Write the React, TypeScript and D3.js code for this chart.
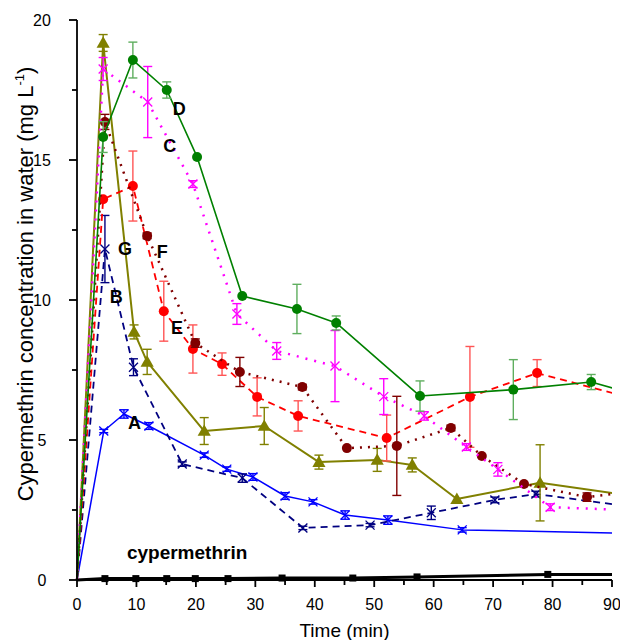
import React from "react";
import * as d3 from "d3";

// ---------- data ----------
const xTicks = [0, 10, 20, 30, 40, 50, 60, 70, 80, 90];
const yTicks = [0, 5, 10, 15, 20];

// D (green, solid, circles)
const timeD = [0, 4.4, 9.4, 15.1, 20.2, 27.8, 37, 43.6, 57.7, 73.4, 86.5, 95];
const concD = [0, 15.82, 18.57, 17.5, 15.11, 10.14, 9.68, 9.18, 6.57, 6.8, 7.07, 6.56];
const errD = [0, 0.55, 0.64, 0.29, 0, 0, 0.88, 0.25, 0.54, 1.07, 0.27, 0];

// C (magenta, dotted, crosses)
const timeC = [0, 4.4, 11.9, 19.5, 26.9, 33.6, 43.4, 51.6, 58.4, 65.5, 70.8, 79.6, 95];
const concC = [0, 18.25, 17.07, 14.14, 9.5, 8.18, 7.64, 6.55, 5.86, 4.75, 3.95, 2.6, 2.48];
const errC = [0, 0.41, 1.27, 0.12, 0.37, 0.3, 1.27, 0.64, 0.15, 0.12, 0.24, 0.12, 0];

// G (olive, solid, triangles)
const timeG = [0, 4.4, 9.6, 11.8, 21.4, 31.5, 40.7, 50.5, 56.4, 63.9, 77.9, 95];
const concG = [0, 19.18, 8.86, 7.79, 5.32, 5.5, 4.21, 4.29, 4.11, 2.89, 3.47, 2.96];
const errG = [0, 0.3, 0.25, 0.45, 0.48, 0.66, 0.25, 0.41, 0.25, 0, 1.36, 0];

// F (dark red, dotted, circles)
const timeF = [0, 4.7, 11.8, 19.9, 27.4, 37.9, 45.4, 53.8, 62.9, 68.1, 75.2, 85.8, 95];
const concF = [0, 16.36, 12.29, 8.46, 7.43, 6.89, 4.71, 4.79, 5.43, 4.43, 3.43, 2.96, 3.2];
const errF = [0, 0.27, 0.1, 0.15, 0.52, 0.1, 0, 1.77, 0.1, 0, 0, 0.15, 0];

// E (red, dashed, circles)
const timeE = [0, 4.4, 9.4, 14.6, 19.5, 24.4, 30.3, 37.2, 52.1, 66.1, 77.4, 95];
const concE = [0, 13.6, 14.07, 9.6, 8.25, 7.71, 6.54, 5.86, 5.07, 6.54, 7.39, 6.4];
const errE = [0, 0, 1.25, 1.07, 0.86, 0.4, 0.68, 0.54, 0.82, 1.8, 0.48, 0];

// B (navy, dashed, crosses)
const timeB = [0, 4.7, 9.5, 17.7, 27.8, 38, 49.3, 59.6, 70.3, 77.2, 95];
const concB = [0, 11.82, 7.6, 4.14, 3.64, 1.86, 1.96, 2.4, 2.86, 3.07, 2.57];
const errB = [0, 1.2, 0.3, 0.08, 0.15, 0.06, 0.06, 0.24, 0.1, 0.1, 0];

// A (blue, solid, crosses)
const timeA = [0, 4.5, 7.9, 12.1, 21.4, 25.2, 29.6, 35, 39.7, 45.1, 52.3, 64.8, 95];
const concA = [0, 5.32, 5.93, 5.5, 4.46, 3.96, 3.68, 3.0, 2.79, 2.32, 2.14, 1.79, 1.66];
const errA = [0, 0.06, 0.15, 0.12, 0.08, 0.08, 0.12, 0.12, 0.08, 0.15, 0.15, 0.08, 0];

// cypermethrin (black, thick, squares)
const timeK = [0, 4.7, 9.9, 15.1, 19.9, 25.4, 34.5, 46.4, 57.2, 79.2, 95];
const concK = [0, 0.05, 0.05, 0.05, 0.05, 0.05, 0.07, 0.07, 0.11, 0.2, 0.2];

// curve labels (data coordinates of text baseline start)
const labelText = ["D", "C", "G", "F", "B", "E", "A", "cypermethrin"];
const labelX = [16.1, 14.5, 6.9, 13.4, 5.5, 15.8, 8.6, 8.4];
const labelY = [16.6, 15.3, 11.6, 11.5, 9.9, 8.8, 5.4, 0.75];

// ---------- layout ----------
const W = 620, H = 640;
const x = d3.scaleLinear().domain([0, 90]).range([77, 612]);
const y = d3.scaleLinear().domain([0, 20]).range([580, 20]);

type Series = {
  t: number[]; c: number[]; e: number[];
  color: string; errColor: string; width: number; dash?: string; cap?: string;
  marker: "circle" | "x" | "tri" | "square";
};

const series: Series[] = [
  { t: timeK, c: concK, e: timeK.map(() => 0), color: "#000", errColor: "#000", width: 3, marker: "square" },
  { t: timeA, c: concA, e: errA, color: "#0000ff", errColor: "#0000ff", width: 1.5, marker: "x" },
  { t: timeB, c: concB, e: errB, color: "#000080", errColor: "#000080", width: 1.8, dash: "7,5", marker: "x" },
  { t: timeG, c: concG, e: errG, color: "#808000", errColor: "#808000", width: 2, marker: "tri" },
  { t: timeE, c: concE, e: errE, color: "#ff0000", errColor: "#ff5555", width: 1.8, dash: "7,5", marker: "circle" },
  { t: timeF, c: concF, e: errF, color: "#800000", errColor: "#800000", width: 2.5, dash: "2,6", marker: "circle" },
  { t: timeC, c: concC, e: errC, color: "#ff00ff", errColor: "#ff00ff", width: 2.5, dash: "2,7", marker: "x" },
  { t: timeD, c: concD, e: errD, color: "#008000", errColor: "#5fae5f", width: 1.6, marker: "circle" },
];

const line = d3.line<[number, number]>().x(d => x(d[0])).y(d => y(d[1]));

function Marker({ s, px, py }: { s: Series; px: number; py: number }) {
  if (s.marker === "circle") return <circle cx={px} cy={py} r={5} fill={s.color} />;
  if (s.marker === "square") return <rect x={px - 3.5} y={py - 3.5} width={7} height={7} fill={s.color} />;
  if (s.marker === "tri") {
    const p = d3.symbol(d3.symbolTriangle, 75)();
    return <path d={p!} transform={`translate(${px},${py + 1})`} fill={s.color} />;
  }
  const r = 4.5;
  return (
    <path d={`M${px - r},${py - r}L${px + r},${py + r}M${px - r},${py + r}L${px + r},${py - r}`}
      stroke={s.color} strokeWidth={1.3} fill="none" />
  );
}

export default function App() {
  const font = "'Liberation Sans', Arial, Helvetica, sans-serif";
  const minorY = d3.range(0, 20.01, 2.5);
  const minorX = d3.range(0, 90.01, 5);
  return (
    <svg width={W} height={H} style={{ position: "absolute", left: 0, top: 0, background: "#fff" }}
      fontFamily={font}>
      <defs>
        <clipPath id="plot"><rect x={x(0) - 8} y={0} width={x(90) - x(0) + 8} height={600} /></clipPath>
      </defs>
      <g clipPath="url(#plot)">
        {series.map((s, i) => {
          const pts = s.t.map((t, j) => [t, s.c[j]] as [number, number]);
          return (
            <g key={i}>
              <path d={line(pts)!} fill="none" stroke={s.color} strokeWidth={s.width}
                strokeDasharray={s.dash} strokeLinejoin="round" />
              {pts.map((p, j) => {
                if (j === 0 || p[0] > 90) return null;
                const e = s.e[j];
                const px = x(p[0]);
                return (
                  <g key={j}>
                    {e > 0 && (
                      <g stroke={s.errColor} strokeWidth={1.4}>
                        <line x1={px} x2={px} y1={y(p[1] - e)} y2={y(p[1] + e)} />
                        <line x1={px - 4.5} x2={px + 4.5} y1={y(p[1] - e)} y2={y(p[1] - e)} />
                        <line x1={px - 4.5} x2={px + 4.5} y1={y(p[1] + e)} y2={y(p[1] + e)} />
                      </g>
                    )}
                    <Marker s={s} px={px} py={y(p[1])} />
                  </g>
                );
              })}
            </g>
          );
        })}
      </g>
      {/* axes */}
      <g stroke="#000" strokeWidth={1.8}>
        <line x1={x(0)} x2={x(0)} y1={y(20)} y2={y(0)} />
        <line x1={x(0)} x2={x(90)} y1={y(0)} y2={y(0)} />
        {minorY.map(v => (
          <line key={"y" + v} x1={x(0) - (v % 5 === 0 ? 8 : 5)} x2={x(0)} y1={y(v)} y2={y(v)} />
        ))}
        {minorX.map(v => (
          <line key={"x" + v} x1={x(v)} x2={x(v)} y1={y(0)} y2={y(0) + (v % 10 === 0 ? 7 : 5)} />
        ))}
      </g>
      {yTicks.map(v => (
        <text key={v} x={42} y={y(v) + 6} textAnchor="middle" fontSize={16}>{v}</text>
      ))}
      {xTicks.map(v => (
        <text key={v} x={x(v)} y={610} textAnchor="middle" fontSize={16}>{v}</text>
      ))}
      <text x={(x(0) + x(90)) / 2} y={637} textAnchor="middle" fontSize={19}>Time (min)</text>
      <text transform={`translate(33,284) rotate(-90)`} textAnchor="middle" fontSize={22}>
        Cypermethrin concentration in water (mg L
        <tspan fontSize={13} dy={-9}>-1</tspan>
        <tspan dy={9}>)</tspan>
      </text>
      {labelText.map((t, i) => (
        <text key={t} x={x(labelX[i])} y={y(labelY[i])} fontSize={t.length > 1 ? 19 : 18}
          fontWeight="bold">{t}</text>
      ))}
    </svg>
  );
}
